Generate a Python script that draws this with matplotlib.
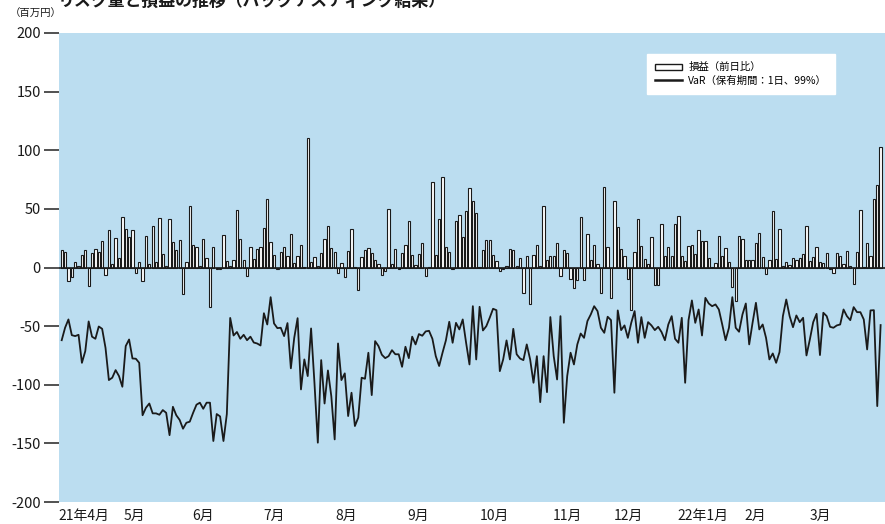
import matplotlib
matplotlib.use("Agg")
import matplotlib.pyplot as plt
from matplotlib.patches import Patch
from matplotlib.lines import Line2D
import numpy as np

plt.rcParams['font.family'] = ['Noto Sans CJK JP', 'DejaVu Sans']
plt.rcParams['axes.unicode_minus'] = False

title = "リスク量と損益の推移（バックテスティング結果）"
unit_label = "（百万円）"
legend_labels = ["損益（前日比）", "VaR（保有期間：1日、99%）"]

# daily P&L (百万円), business days Apr 2021 - Mar 2022
pnl = [
    14.8, 13.3, -11.4, -8.5, 4.5, 1.4, 10.8, 15, -16, 12, 15.6, 13.6, 22.4, -6, 31.8, 2.6, 25, 8.5, 42.9, 32.7,
    26.4, 32.4, -4.3, 4.3, -11.6, 27, 3.4, 35.8, 5.1, 42.6, 11.4, 0.9, 41.2, 21.6, 14.8, 23.3, -23, 4.5, 52.6, 19.6,
    17.3, 1.7, 23.9, 7.7, -33.5, 17.6, -1.4, -1.7, 27.8,
    5.7, 1.1, 6.8, 49.4, 23.9, 6.5, -7.4, 17.9, 7.4, 15.9, 17.9, 33.5, 58.5, 21.9, 10.5, -1.4, 13.6, 17.9, 9.7, 28.7,
    3.7, 9.7, 19.3, 0.5, 110.5, 5.1, 8.8, 1.7, 12.2, 23.9, 35.5, 17, 13.4, -4.8, 3.7, -7.7, 14.2, 33, 0.3, -18.8,
    9.1, 15, 16.5, 12, 6.5, 2.6, -6.3, -2.8, 50.3,
    2.8, 16.2, -0.9, 12, 19, 39.8, 10.5, 2, 11.1, 20.7, -7.4, 0.6, 73, 10.5, 41.5, 77, 17.3, 13.6, -1.4, 39.5,
    44.9, 25.9, 48.6, 68.2, 56.8, 46.3, 0.3, 15, 23.3, 23.3, 10.8, 5.4, -3.1, -1.1, 1.1, 15.6, 14.8, 1.4, 8.2, -21.6,
    9.9, -31, 10.5, 19, 1.7, 52.3, 6.5, 9.9, 9.9,
    20.7, -7.1, 14.8, 12.5, -10.2, -17.9, -10.5, 43.2, -10.5, 28.7, 6.5, 19, 2.8, -21.9, 68.5, 17.9, -26.4, 56.8, 34.4, 16.2,
    9.4, -9.4, -36, 13.4, 41.5, 18.2, 7.1, 3.1, 25.6, -14.8, -14.8, 37.5, 9.7, 17.9, 9.4, 36.9, 43.8, 10.2, 5.7, 18.2,
    19.6, 11.4, 32.1, 22.7, 22.7, 8.2, 0.3, 4, 26.7,
    9.9, 16.8, 5.1, -17, -28.7, 26.7, 24.4, 6.5, 6.5, 6.5, 21, 29.8, 8.8, -5.4, 6.5, 48, 7.4, 33, 0.9, 5.1,
    2.3, 8.5, 6, 8.5, 11.1, 35.2, 5.7, 9.1, 17.6, 4.8, 4, 12.2, -1.7, -4.5, 12.2, 9.9, 3.1, 14.2, 1.4, -13.9,
    13.6, 49.1, 0.6, 20.5, 9.4, 58.8, 70.7, 103,
]

# VaR (holding period 1 day, 99%), shown as negative values
var = [
    -62, -51.4, -44.3, -57.7, -58.5, -57.4, -81.3, -71.3, -46, -59, -60.8, -50.3, -52.3, -68.5, -96, -94, -87.5, -92.6, -101.7, -67,
    -61.4, -77.6, -77.8, -81.3, -126, -119.6, -116, -124.4, -124.4, -125.6, -121.6, -123.9, -143, -118.8, -126, -130, -137.5, -132.4, -131.5, -123.9,
    -117, -115.3, -120.5, -115.3, -115.3, -148, -125, -127, -148,
    -125, -43, -58, -55, -60.8, -57.4, -62, -59, -64, -64.8, -66.5, -39, -48.6, -25.3, -47.7, -51.7, -51.4, -58.5, -47.4, -86,
    -60, -43.2, -104, -78.4, -92.6, -52, -98.3, -149.4, -79, -116, -87.8, -109.7, -146.6, -64.8, -96, -90.3, -126.7, -106.8, -135.2, -128,
    -94, -94.9, -72.7, -108.8, -62.8, -67, -74.4, -77.3, -75.6,
    -70.5, -74, -74, -84.7, -67.6, -77.3, -59, -65.6, -56.8, -58.2, -54.5, -54, -60.8, -75.6, -84, -72.7, -62.2, -46.3, -64.2, -47.2,
    -52.8, -44.3, -64.2, -82.7, -33, -78.4, -33.5, -53.7, -50, -42.9, -35.2, -36.4, -88.4, -78.4, -62.2, -78.4, -52.3, -74, -77.6, -79,
    -65.6, -78.4, -98.3, -75.6, -114.8, -75.6, -106.3, -42.3, -75.6,
    -95.5, -41.5, -132.4, -92.6, -72.7, -82.7, -65.6, -56.3, -60, -45.7, -40, -33, -37.2, -51.4, -55.7, -42, -44.9, -106.8, -36.6, -53.4,
    -49.4, -60, -47.2, -37.2, -64.2, -42.3, -60, -46.6, -49.4, -53.4, -50.6, -55.1, -62, -48.6, -41.5, -60.8, -64.2, -42.9, -98.3, -44.9,
    -28.1, -47.2, -35.8, -58, -25.9, -30.7, -33, -31.5, -35.8,
    -48.6, -62, -51.4, -25.3, -51.4, -54.8, -40.1, -30.7, -65.6, -47.2, -30.1, -52.8, -48.6, -60, -78.4, -73.3, -81.3, -72.2, -41.5, -27.3,
    -41.5, -50.9, -40.9, -46.6, -42.9, -75, -61.4, -46.6, -39.5, -74.7, -38.6, -41.5, -50.6, -51.4, -49.4, -48.6, -35.8, -41.5, -44.9, -33.8,
    -38.1, -38.1, -44.3, -69.9, -36.6, -36.4, -118.2, -49.1,
]

month_labels = ["21年4月", "5月", "6月", "7月", "8月", "9月", "10月", "11月", "12月", "22年1月", "2月", "3月"]
# label positions expressed in business-day index
month_label_pos = [6.6, 21.7, 41.9, 63, 84.4, 105.7, 128.3, 150.2, 168.3, 190.3, 205.8, 225]

y_ticks = [200, 150, 100, 50, 0, -50, -100, -150, -200]

W, H = 885, 524
fig = plt.figure(figsize=(W / 100, H / 100), dpi=100)
ax = fig.add_axes([59 / W, (H - 502) / H, 826 / W, 469 / H])
bg = '#bbddf0'
ax.set_facecolor(bg)

x = np.arange(len(pnl))
ax.bar(x, pnl, width=0.68, color='white', edgecolor='#1a1a1a', linewidth=0.8, zorder=2)
ax.axhline(0, color='#1a1a1a', lw=1.2, zorder=3)
ax.plot(np.arange(len(var)), var, color='#1a1a1a', lw=1.3, zorder=4)

ax.set_xlim(-0.8, 244.3)
ax.set_ylim(-200, 200)
for s in ax.spines.values():
    s.set_visible(False)

ax.set_yticks(y_ticks)
ax.set_yticklabels([str(v) for v in y_ticks])
ax.tick_params(axis='y', length=11, width=1.1, color='#222222', pad=2, labelsize=10.5, labelcolor='#1a1a1a')
ax.set_xticks(month_label_pos)
ax.set_xticklabels(month_labels)
ax.tick_params(axis='x', length=0, pad=5, labelsize=10, labelcolor='#1a1a1a')

handles = [Patch(facecolor='white', edgecolor='#1a1a1a', linewidth=1.0),
           Line2D([0], [0], color='#1a1a1a', lw=1.8)]
leg = ax.legend(handles, legend_labels, loc='upper right', bbox_to_anchor=(0.94, 0.955),
                borderaxespad=0, fontsize=7.5, frameon=True, fancybox=False,
                handlelength=2.6, handleheight=0.5, handletextpad=0.6, labelspacing=0.3,
                borderpad=0.8)
leg.get_frame().set_edgecolor('white')
leg.get_frame().set_facecolor('white')
leg.get_frame().set_alpha(1)

fig.text(10 / W, 1 - 14 / H, unit_label, fontsize=7.5, va='center', ha='left', color='#1a1a1a')
fig.text(58 / W, 1 - 6 / H, title, fontsize=12.2, fontweight='bold', va='baseline', ha='left', color='#1a1a1a')

fig.savefig('out.png', dpi=100, facecolor='white')
